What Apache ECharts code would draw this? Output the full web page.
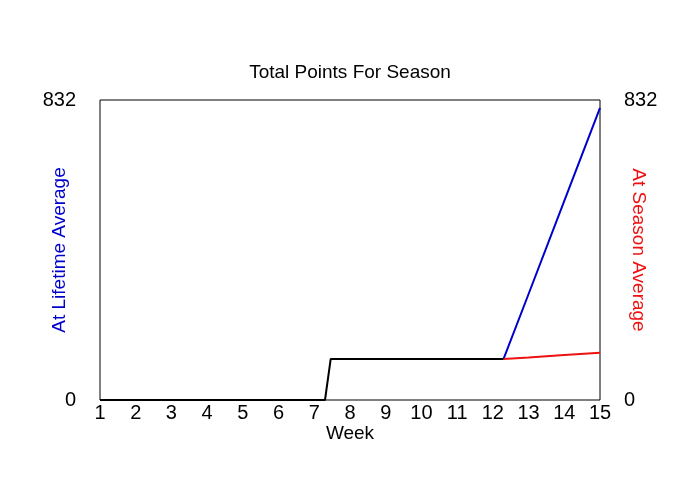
<!DOCTYPE html>
<html><head><meta charset="utf-8">
<script src="https://cdn.jsdelivr.net/npm/echarts@6/dist/echarts.min.js"></script>
<style>html,body{margin:0;padding:0;background:#fff}#c{width:700px;height:500px}</style>
</head><body><div id="c"></div>
<script>
var weekTicks = [1,2,3,4,5,6,7,8,9,10,11,12,13,14,15];
var yTicks = [0, 832];
var actualX = [1, 7.3, 7.46, 12.3];
var actualY = [0, 0, 114, 114];
var lifetimeX = [12.3, 13, 14, 15];
var lifetimeY = [114, 294, 552, 810];
var seasonX = [12.3, 13, 14, 15];
var seasonY = [114, 118, 125, 131];

function pairs(xs, ys){ return xs.map(function(x,i){ return [x, ys[i]]; }); }

var font = 'Liberation Sans, Arial, sans-serif';
var chart = echarts.init(document.getElementById('c'));
chart.setOption({
  animation: false,
  backgroundColor: '#fff',
  title: { text: 'Total Points For Season', left: 'center', top: 58,
    textStyle: { fontFamily: font, fontSize: 19, fontWeight: 'normal', color: '#000' } },
  grid: { left: 100, right: 100, top: 100, bottom: 100, show: true, borderColor: '#000', borderWidth: 1, backgroundColor: 'transparent' },
  xAxis: { type: 'value', min: weekTicks[0], max: weekTicks[weekTicks.length-1], interval: 1,
    name: 'Week', nameLocation: 'middle', nameGap: 24, nameMoveOverlap: false,
    nameTextStyle: { fontFamily: font, fontSize: 19, color: '#000' },
    axisLine: { show: false }, axisTick: { show: false }, splitLine: { show: false },
    axisLabel: { fontFamily: font, fontSize: 20, color: '#000', margin: 3 } },
  yAxis: [
    { type: 'value', position: 'left', min: yTicks[0], max: yTicks[1], interval: yTicks[1],
      name: 'At Lifetime Average', nameLocation: 'middle', nameGap: 31, nameMoveOverlap: false,
      nameTextStyle: { fontFamily: font, fontSize: 19, color: '#0000cc' },
      axisLine: { show: false }, axisTick: { show: false }, splitLine: { show: false },
      axisLabel: { fontFamily: font, fontSize: 20, color: '#000', margin: 24 } },
    { type: 'value', position: 'right', min: yTicks[0], max: yTicks[1], interval: yTicks[1],
      name: 'At Season Average', nameLocation: 'middle', nameGap: 29, nameRotate: -90, nameMoveOverlap: false,
      nameTextStyle: { fontFamily: font, fontSize: 19, color: '#ee1111' },
      axisLine: { show: false }, axisTick: { show: false }, splitLine: { show: false },
      axisLabel: { fontFamily: font, fontSize: 20, color: '#000', margin: 24 } }
  ],
  series: [
    { type: 'line', data: pairs(lifetimeX, lifetimeY), symbol: 'none', lineStyle: { color: '#0000cc', width: 2 }, z: 3 },
    { type: 'line', data: pairs(seasonX, seasonY), symbol: 'none', lineStyle: { color: '#ee1111', width: 2 }, z: 3 },
    { type: 'line', data: pairs(actualX, actualY), symbol: 'none', lineStyle: { color: '#000', width: 2 }, z: 4 }
  ]
});
</script></body></html>
